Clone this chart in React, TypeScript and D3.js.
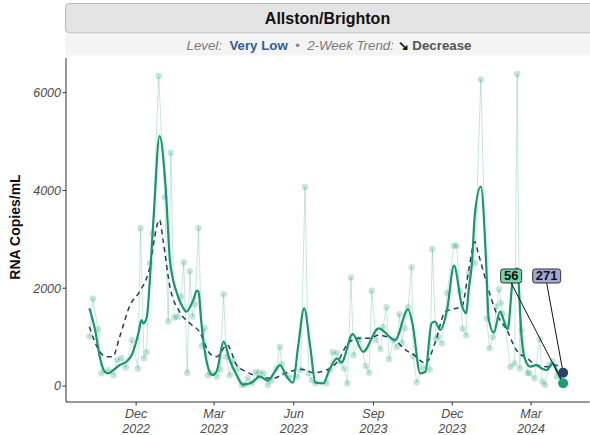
import React from 'react';
import * as d3 from 'd3';

const title = 'Allston/Brighton';

const rawDates = [
  '2022-10-08','2022-10-12','2022-10-18','2022-10-22','2022-10-30','2022-11-05','2022-11-09','2022-11-14','2022-11-19','2022-11-26',
  '2022-12-03','2022-12-06','2022-12-10','2022-12-13','2022-12-17','2022-12-20','2022-12-27','2023-01-03','2023-01-07','2023-01-10',
  '2023-01-14','2023-01-18','2023-01-22','2023-01-25','2023-01-29','2023-02-01','2023-02-04','2023-02-07','2023-02-11','2023-02-15',
  '2023-02-18','2023-02-22','2023-02-26','2023-03-04','2023-03-08','2023-03-12','2023-03-15','2023-03-19','2023-03-23','2023-03-28',
  '2023-04-02','2023-04-05','2023-04-09','2023-04-14','2023-04-18','2023-04-22','2023-04-27','2023-05-02','2023-05-06','2023-05-12',
  '2023-05-16','2023-05-18','2023-05-21','2023-05-26','2023-06-05','2023-06-09','2023-06-14','2023-06-18','2023-06-22','2023-06-26',
  '2023-07-09','2023-07-13','2023-07-16','2023-07-21','2023-07-24','2023-07-29','2023-08-02','2023-08-06','2023-08-09','2023-08-16',
  '2023-08-23','2023-08-27','2023-08-30','2023-09-04','2023-09-09','2023-09-12','2023-09-16','2023-09-19','2023-09-24','2023-09-28',
  '2023-10-01','2023-10-04','2023-10-07','2023-10-11','2023-10-15','2023-10-17','2023-10-21','2023-10-28','2023-11-05','2023-11-08',
  '2023-11-12','2023-11-15','2023-11-19','2023-11-25','2023-12-03','2023-12-06','2023-12-10','2023-12-13','2023-12-17','2023-12-20',
  '2023-12-27','2024-01-03','2024-01-10','2024-01-13','2024-01-17','2024-01-21','2024-01-24','2024-01-26','2024-01-28','2024-01-31',
  '2024-02-06','2024-02-11','2024-02-14','2024-02-17','2024-02-19','2024-02-26','2024-02-28','2024-03-05','2024-03-11','2024-03-14',
  '2024-03-17','2024-03-22','2024-03-26','2024-03-31','2024-04-07'
];
const rawValues = [
  1010,1790,1160,260,330,220,530,570,380,940,
  360,3230,570,690,2510,3120,6340,3860,1320,4770,
  1400,1410,1830,2530,270,2350,1420,1670,3230,820,
  1180,220,260,190,340,1880,600,220,530,360,
  20,30,160,60,290,270,260,20,110,360,
  800,450,260,190,190,330,4070,260,120,55,
  55,330,690,670,500,360,50,2220,630,960,
  410,270,1950,940,755,1210,1610,550,940,800,
  1470,880,1180,1610,2430,610,75,380,340,2800,
  960,1010,870,1900,2870,2870,1940,1170,1035,2300,
  2510,6270,1380,770,1000,1620,1980,1700,1490,1250,
  390,460,6380,360,1145,270,260,160,955,90,
  20,430,500,190,56
];

const smoothDates = [
  '2022-10-08','2022-10-15','2022-10-20','2022-10-26','2022-10-30','2022-11-05','2022-11-12','2022-11-20','2022-11-26','2022-12-04',
  '2022-12-07','2022-12-09','2022-12-13','2022-12-21','2022-12-28','2023-01-04','2023-01-09','2023-01-17','2023-01-23','2023-01-28',
  '2023-02-05','2023-02-09','2023-02-11','2023-02-14','2023-02-20','2023-02-27','2023-03-04','2023-03-12','2023-03-19','2023-03-27',
  '2023-04-03','2023-04-13','2023-04-23','2023-05-02','2023-05-10','2023-05-16','2023-05-24','2023-05-31','2023-06-06','2023-06-13',
  '2023-06-20','2023-06-26','2023-07-05','2023-07-12','2023-07-21','2023-07-26','2023-08-08','2023-08-20','2023-09-07','2023-09-26',
  '2023-10-11','2023-10-16','2023-10-25','2023-10-31','2023-11-07','2023-11-11','2023-11-17','2023-11-25','2023-12-03','2023-12-12',
  '2023-12-17','2023-12-20','2023-12-24','2023-12-27','2024-01-03','2024-01-09','2024-01-12','2024-01-18','2024-01-25','2024-02-03',
  '2024-02-09','2024-02-14','2024-02-19','2024-02-22','2024-02-29','2024-03-07','2024-03-13','2024-03-19','2024-03-26','2024-04-01',
  '2024-04-07'
];
const smoothValues = [
  1590,1110,600,290,260,330,430,500,640,1110,
  1350,1280,1390,3400,5110,4080,2580,1900,1640,1520,
  1760,1950,1930,1350,530,225,300,906,532,225,
  30,68,190,110,292,429,190,68,804,1590,
  804,68,55,327,566,480,1063,701,1180,940,
  1570,1282,260,290,1280,1315,1145,1554,2460,1656,
  1487,1963,2577,3497,4076,2577,1384,1090,1520,1160,
  2200,2407,1008,600,395,429,362,327,464,260,
  56
];

const trendDates = [
  '2022-10-08','2022-10-20','2022-10-28','2022-11-04','2022-11-12','2022-11-24','2022-12-05','2022-12-15','2022-12-28','2023-01-01',
  '2023-01-09','2023-01-20','2023-02-01','2023-02-12','2023-02-24','2023-03-04','2023-03-16','2023-03-27','2023-04-07','2023-04-23',
  '2023-05-08','2023-05-22','2023-06-10','2023-06-24','2023-07-09','2023-07-24','2023-08-01','2023-08-14','2023-08-28','2023-09-07',
  '2023-09-16','2023-09-28','2023-10-07','2023-10-18','2023-10-31','2023-11-11','2023-11-23','2023-12-06','2023-12-12','2023-12-20',
  '2023-12-27','2023-12-31','2024-01-12','2024-01-21','2024-02-02','2024-02-13','2024-02-26','2024-03-07','2024-03-21','2024-03-29',
  '2024-04-07'
];
const trendValues = [
  1213,701,600,600,1008,1656,1929,2304,3395,2986,
  2031,1520,1282,1110,668,600,838,429,292,190,
  157,260,341,272,327,566,838,975,975,1043,
  1008,906,750,634,464,873,1520,1589,1622,2372,
  2951,2714,1963,1487,1145,736,560,429,395,430,
  271
];

const xTickDates = ['2022-12-01','2023-03-01','2023-06-01','2023-09-01','2023-12-01','2024-03-01'];
const xTickMonths = ['Dec','Mar','Jun','Sep','Dec','Mar'];
const xTickYears = ['2022','2023','2023','2023','2023','2024'];
const yTicks = [0, 2000, 4000, 6000];

const latestLabels = ['56', '271'];
const latestValues = [56, 271];
const labelDates = ['2024-02-07', '2024-03-19'];
const labelLevel = 2250;

const FONT = "'Liberation Sans', Arial, Helvetica, sans-serif";

export default function App() {
  const W = 590, H = 435;
  const parse = d3.timeParse('%Y-%m-%d');
  const left = 66, right = 586.5, top = 58, bottom = 402;

  const x = d3.scaleTime()
    .domain([parse('2022-09-11') as Date, parse('2024-05-04') as Date])
    .range([left, right]);
  const y = d3.scaleLinear().domain([-327, 6667]).range([bottom, 60]);

  const raw = rawDates.map((d, i) => ({ d: parse(d) as Date, v: rawValues[i] }));
  const smooth = smoothDates.map((d, i) => ({ d: parse(d) as Date, v: smoothValues[i] }));
  const trend = trendDates.map((d, i) => ({ d: parse(d) as Date, v: trendValues[i] }));

  const rawLine = d3.line<{ d: Date; v: number }>().x(p => x(p.d)).y(p => y(p.v));
  const smoothLine = d3.line<{ d: Date; v: number }>().x(p => x(p.d)).y(p => y(p.v)).curve(d3.curveMonotoneX);

  const lastRaw = raw[raw.length - 1];
  const endX = x(lastRaw.d);
  const endColors = ['#1a9e72', '#2c3e70'];
  const labelFills = ['#76d4aa', '#a2a7d3'];
  const labelWidths = [21, 28];

  return (
    <svg width={W} height={H} style={{ position: 'fixed', left: 0, top: 0, background: '#fff' }} fontFamily={FONT}>
      {/* header */}
      <rect x={65.5} y={3.5} width={530} height={29.5} rx={4} fill="#e4e4e4" stroke="#b8b8b8" />
      <text x={327.5} y={24} textAnchor="middle" fontSize={16} fontWeight="bold" fill="#111">{title}</text>
      <rect x={65} y={33.5} width={525} height={22} fill="#f4f4f4" />
      <text x={329} y={49.5} textAnchor="middle" fontSize={13.3} style={{ whiteSpace: 'pre' }}>
        <tspan fontStyle="italic" fill="#7a7a7a">{'Level:  '}</tspan>
        <tspan fontWeight="bold" fill="#2f6090">Very Low</tspan>
        <tspan fill="#8a8a8a">{'  •  '}</tspan>
        <tspan fontStyle="italic" fill="#7a7a7a">{'2-Week Trend: '}</tspan>
        <tspan fontWeight="bold" fill="#111">↘</tspan>
        <tspan fontWeight="bold" fill="#555">{' Decrease'}</tspan>
      </text>

      {/* axes */}
      <line x1={left} x2={left} y1={top} y2={bottom} stroke="#333" strokeWidth={1} />
      <line x1={left} x2={right + 3} y1={bottom} y2={bottom} stroke="#333" strokeWidth={1} />
      {yTicks.map(t => (
        <g key={t}>
          <line x1={left - 3.5} x2={left} y1={y(t)} y2={y(t)} stroke="#333" />
          <text x={left - 5} y={y(t) + 4.3} textAnchor="end" fontSize={12.5} fontStyle="italic" fill="#4d4d4d">{t}</text>
        </g>
      ))}
      {xTickDates.map((t, i) => {
        const tx = x(parse(t) as Date);
        return (
          <g key={t}>
            <line x1={tx} x2={tx} y1={bottom} y2={bottom + 3.5} stroke="#333" />
            <text x={tx} y={418} textAnchor="middle" fontSize={12.5} fontStyle="italic" fill="#4d4d4d">{xTickMonths[i]}</text>
            <text x={tx} y={433} textAnchor="middle" fontSize={12.5} fontStyle="italic" fill="#4d4d4d">{xTickYears[i]}</text>
          </g>
        );
      })}
      <text transform={`translate(20,${(top + bottom) / 2 - 3}) rotate(-90)`} textAnchor="middle" fontSize={14} fontWeight="bold" fill="#111">RNA Copies/mL</text>

      {/* raw data */}
      <path d={rawLine(raw) || ''} fill="none" stroke="#1a9e72" strokeOpacity={0.25} strokeWidth={1} />
      {raw.map((p, i) => (
        <circle key={i} cx={x(p.d)} cy={y(p.v)} r={3.2} fill="#1a9e72" fillOpacity={0.26} />
      ))}

      {/* trend lines */}
      <path d={smoothLine(trend) || ''} fill="none" stroke="#27386b" strokeWidth={1.5} strokeDasharray="5,4" />
      <path d={smoothLine(smooth) || ''} fill="none" stroke="#14996b" strokeWidth={2.2} />

      {/* latest value labels */}
      {latestLabels.map((lab, i) => {
        const lx = x(parse(labelDates[i]) as Date);
        const ly = y(labelLevel);
        const w = labelWidths[i];
        return (
          <g key={lab}>
            <line x1={lx} y1={ly + 7} x2={endX} y2={y(latestValues[i])} stroke="#111" strokeWidth={1} />
            <rect x={lx - w / 2} y={ly - 7} width={w} height={14} rx={2.5} fill={labelFills[i]} stroke="#333" strokeWidth={1} />
            <text x={lx} y={ly + 4.5} textAnchor="middle" fontSize={13} fontWeight="bold" fill="#111">{lab}</text>
          </g>
        );
      })}
      {latestValues.map((v, i) => (
        <circle key={i} cx={endX} cy={y(v)} r={5} fill={endColors[i]} />
      )).reverse()}
    </svg>
  );
}
